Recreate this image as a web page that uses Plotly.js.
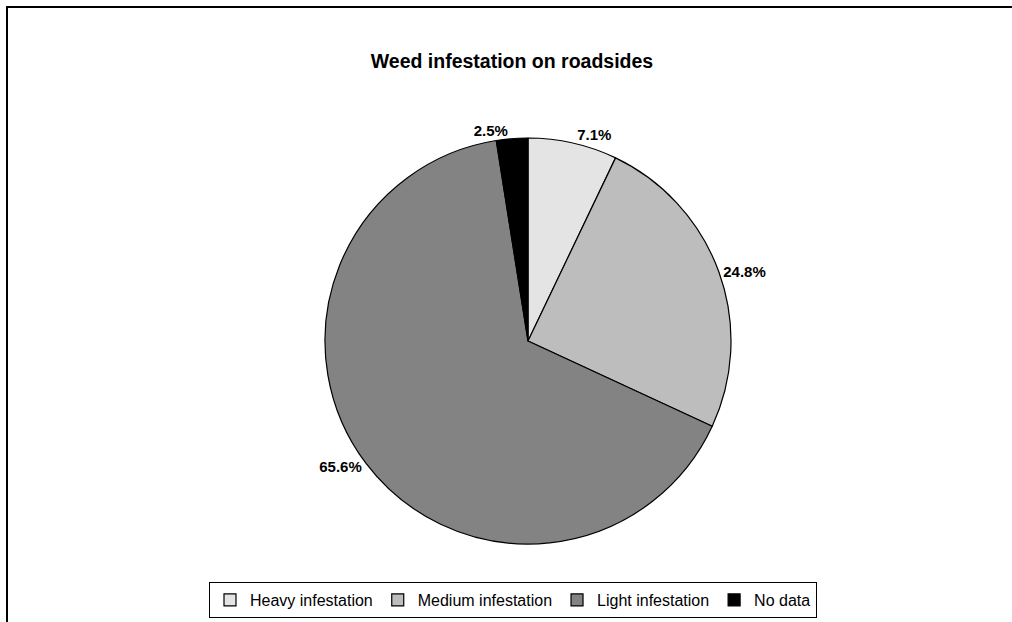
<!DOCTYPE html>
<html>
<head>
<meta charset="utf-8">
<script src="https://cdn.plot.ly/plotly-3.0.1.min.js"></script>
<style>html,body{margin:0;padding:0;background:#fff;}#chart{width:1012px;height:622px;}</style>
</head>
<body>
<div id="chart"></div>
<script>
const categories = ["Heavy infestation", "Medium infestation", "Light infestation", "No data"];
const shares = [7.1, 24.8, 65.6, 2.5];
const sliceColors = ["#e4e4e4", "#bdbdbd", "#838383", "#000000"];

const W = 1012, H = 622;
const cx = 528, cy = 341, r = 203;

const trace = {
  type: "pie",
  labels: categories,
  values: shares,
  sort: false,
  direction: "clockwise",
  rotation: 0,
  marker: { colors: sliceColors, line: { color: "#000000", width: 1.2 } },
  texttemplate: "%{value:.1f}%",
  textposition: "outside",
  textfont: { family: "Liberation Sans, Arial, sans-serif", size: 15, color: "#000000", weight: "bold" },
  outsidetextfont: { family: "Liberation Sans, Arial, sans-serif", size: 15, color: "#000000", weight: "bold" },
  hoverinfo: "none",
  automargin: false,
  domain: { x: [(cx - r) / W, (cx + r) / W], y: [1 - (cy + r) / H, 1 - (cy - r) / H] }
};

const layout = {
  width: W, height: H,
  margin: { l: 0, r: 0, t: 0, b: 0 },
  paper_bgcolor: "#ffffff",
  font: { family: "Liberation Sans, Arial, sans-serif", color: "#000000" },
  title: {
    text: "<b>Weed infestation on roadsides</b>",
    font: { size: 19.5, family: "Liberation Sans, Arial, sans-serif", color: "#000000" },
    x: 512 / W, xanchor: "center", y: 1 - 61 / H, yanchor: "middle"
  },
  showlegend: true,
  legend: {
    orientation: "h",
    x: 513 / W, xanchor: "center",
    y: 1 - 582 / H, yanchor: "top",
    bordercolor: "#000000", borderwidth: 1, bgcolor: "#ffffff",
    font: { size: 16, family: "Liberation Sans, Arial, sans-serif", color: "#000000" },
    traceorder: "normal",
    itemwidth: 30
  },
  shapes: [{
    type: "rect", xref: "paper", yref: "paper",
    x0: 7 / W, x1: 1.05, y0: -0.05, y1: 1 - 7 / H,
    line: { color: "#000000", width: 2 }, fillcolor: "rgba(0,0,0,0)"
  }]
};

Plotly.newPlot("chart", [trace], layout, { displayModeBar: false, staticPlot: true });
</script>
</body>
</html>
